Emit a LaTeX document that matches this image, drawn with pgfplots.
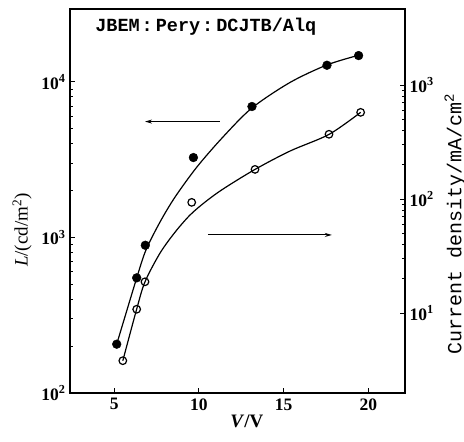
\documentclass[border=0pt]{standalone}
\usepackage{pgfplots}
\pgfplotsset{compat=1.18}
\usepackage{fontspec}
\setmainfont{Liberation Serif}
\newfontfamily\monofont{Liberation Mono}
\usetikzlibrary{arrows.meta}

\newcommand{\tl}[1]{\textbf{10}\textsuperscript{\textbf{#1}}}

\begin{document}
\begin{tikzpicture}
\begin{axis}[
  scale only axis, width=335pt, height=384pt,
  xmin=2.38, xmax=22.17,
  ymode=log, ymin=100, ymax=29440,
  xtick={5,10,15,20},
  ytick={100,1000,10000},
  yticklabels={\tl{2},\tl{3},\tl{4}},
  minor ytick={},
  tick align=inside,
  xtick pos=bottom, ytick pos=left,
  axis line style={line width=1.6pt},
  major tick length=5pt,
  tick style={line width=1pt, black},
  ticklabel style={font=\fontsize{17.5}{17.5}\selectfont\bfseries},
  xticklabel style={yshift=-2pt},
  yticklabel style={xshift=-1pt},
  /pgf/number format/assume math mode=true,
  clip=false,
]
\coordinate (O) at (rel axis cs:0,0);
% fitted luminance curve
\addplot[smooth, tension=0.5, line width=1.2pt, black] coordinates {
 (5.14,206) (6.32,549) (6.87,831) (7.70,1258) (8.59,1822) (9.88,2841)
 (11.42,4429) (13.13,6804) (15.38,9926) (17.56,12860) (19.39,14800)};
% luminance points
\addplot[only marks, mark=*, mark size=4.4pt, black] coordinates {
 (5.14,206) (6.32,550) (6.83,891) (9.67,3265) (13.13,6950) (17.56,12800) (19.43,14770)};
\draw[-{Stealth[length=7pt,width=4pt]}, line width=1.1pt] (axis cs:11.24,5560) -- (axis cs:6.81,5560);
\draw[-{Stealth[length=7pt,width=4pt]}, line width=1.1pt] (axis cs:10.53,1038) -- (axis cs:17.85,1038);
\node[anchor=west, font=\monofont\bfseries\fontsize{18.5}{18.5}\selectfont, inner sep=0pt] at (rel axis cs:0.075,0.953)
  {JBEM\hspace{2pt}:\hspace{3pt}Pery\hspace{2pt}:\hspace{3pt}DCJTB/Alq};
\node[rotate=90, font=\fontsize{19}{19}\selectfont, inner sep=0pt] at (rel axis cs:-0.143,0.424)
  {\textit{L}/(cd/m\textsuperscript{2})};
\node[font=\fontsize{19}{19}\selectfont\bfseries, inner sep=0pt] at (rel axis cs:0.528,-0.073)
  {\textit{V}/V};
\end{axis}
\begin{axis}[
  scale only axis, width=335pt, height=384pt,
  xmin=2.38, xmax=22.17,
  ymode=log, ymin=1.99, ymax=4645,
  axis y line*=right, axis x line=none,
  ytick={10,100,1000},
  yticklabels={\tl{1},\tl{2},\tl{3}},
  minor ytick={},
  tick align=inside,
  axis line style={line width=1.6pt},
  major tick length=5pt,
  tick style={line width=1pt, black},
  ticklabel style={font=\fontsize{17.5}{17.5}\selectfont\bfseries},
  yticklabel style={xshift=1pt},
  clip=false,
]
\addplot[smooth, tension=0.5, line width=1.2pt, black] coordinates {
 (5.50,3.82) (6.32,10.84) (6.81,18.8) (7.70,33.6) (8.59,51.3) (9.47,72.4)
 (10.36,94.1) (11.42,122.4) (13.31,182) (15.38,263.7) (17.68,369) (19.55,576)};
\addplot[only marks, mark=o, mark size=3.8pt, line width=1.2pt, black,
  mark options={fill=white}] coordinates {
 (5.50,3.82) (6.32,10.8) (6.81,18.8) (9.57,93.5) (13.31,182) (17.68,370) (19.55,576)};
\node[rotate=90, font=\monofont\fontsize{20}{20}\selectfont, inner sep=0pt] at (rel axis cs:1.149,0.44)
  {Current density/mA/cm\textsuperscript{2}};
\end{axis}
\pgfresetboundingbox
\path[use as bounding box] ([shift={(-70pt,-49pt)}]O) rectangle ([shift={(394pt,393pt)}]O);
\end{tikzpicture}
\end{document}
